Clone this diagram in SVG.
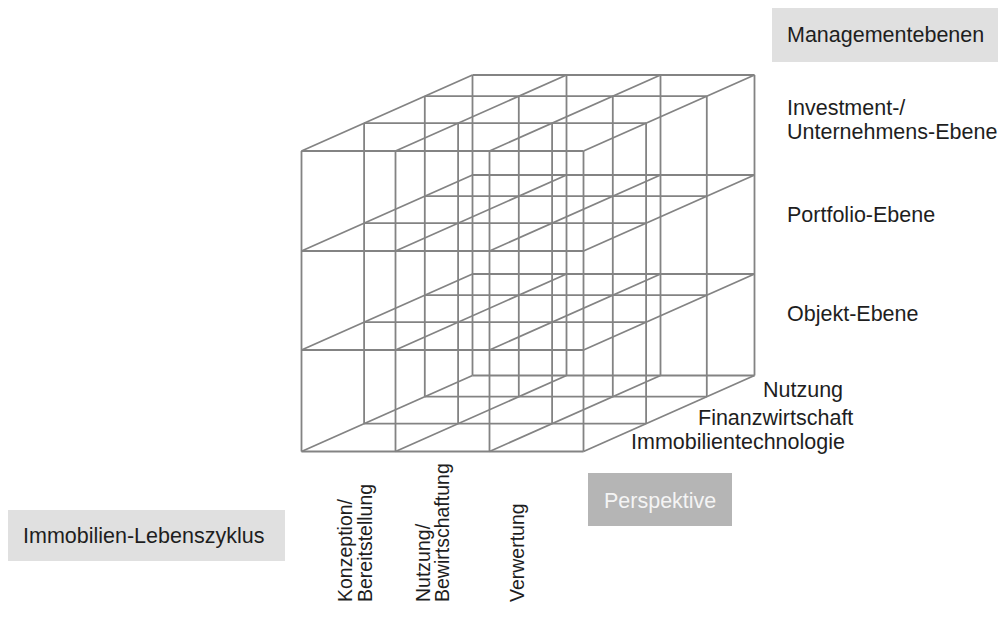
<svg xmlns="http://www.w3.org/2000/svg" xmlns:xlink="http://www.w3.org/1999/xlink" width="998" height="619" viewBox="0 0 998 619">
  <style>
    .grid { fill: none; stroke: #838383; stroke-width: 1.8; }
    .lbl { font-family: "Liberation Sans", Arial, sans-serif; font-size: 21.5px; fill: #1e1e1e; }
    .lbl-r { font-family: "Liberation Sans", Arial, sans-serif; font-size: 19.5px; fill: #1e1e1e; }
    .lbl-w { font-family: "Liberation Sans", Arial, sans-serif; font-size: 21.5px; fill: #f4f4f4; }
    .box-light { fill: #e0e0e0; }
    .box-dark { fill: #b5b5b5; }
  </style>
  <defs>
    <!-- one 3x3 slice of the cube (front plane); copied back along the depth axis -->
    <path id="slice" class="grid" d="M301.5 151V451.5M395.5 151V451.5M489.5 151V451.5M583.5 151V451.5M301.5 151H583.5M301.5 251H583.5M301.5 350H583.5M301.5 451.5H583.5"/>
  </defs>
  <rect width="998" height="619" fill="#ffffff"/>

  <!-- wireframe cube -->
  <g id="cube">
    <use xlink:href="#slice" transform="translate(171 -76)"/>
    <use xlink:href="#slice" transform="translate(123.3 -54.8)"/>
    <use xlink:href="#slice" transform="translate(62.6 -27.8)"/>
    <use xlink:href="#slice"/>
    <!-- depth edges running from the front plane to the back plane -->
    <path class="grid" d="M301.5 151l171 -76M395.5 151l171 -76M489.5 151l171 -76M583.5 151l171 -76
      M301.5 251l171 -76M395.5 251l171 -76M489.5 251l171 -76M583.5 251l171 -76
      M301.5 350l171 -76M395.5 350l171 -76M489.5 350l171 -76M583.5 350l171 -76
      M301.5 451.5l171 -76M395.5 451.5l171 -76M489.5 451.5l171 -76M583.5 451.5l171 -76"/>
  </g>

  <!-- management levels (vertical axis) -->
  <g id="managementebenen">
    <rect class="box-light" x="772" y="8" width="226" height="54"/>
    <text class="lbl" x="787" y="41.5">Managementebenen</text>
  </g>
  <g id="ebene-investment">
    <text class="lbl" x="787" y="115">Investment-/</text>
    <text class="lbl" x="787" y="139">Unternehmens-Ebene</text>
  </g>
  <g id="ebene-portfolio">
    <text class="lbl" x="787" y="222">Portfolio-Ebene</text>
  </g>
  <g id="ebene-objekt">
    <text class="lbl" x="787" y="321">Objekt-Ebene</text>
  </g>

  <!-- perspectives (depth axis) -->
  <g id="perspektive-nutzung">
    <text class="lbl" x="763" y="396.5">Nutzung</text>
  </g>
  <g id="perspektive-finanzwirtschaft">
    <text class="lbl" x="698" y="425">Finanzwirtschaft</text>
  </g>
  <g id="perspektive-technologie">
    <text class="lbl" x="631" y="449">Immobilientechnologie</text>
  </g>
  <g id="perspektive">
    <rect class="box-dark" x="588" y="473" width="144" height="53"/>
    <text class="lbl-w" x="604" y="508">Perspektive</text>
  </g>

  <!-- life cycle (horizontal axis) -->
  <g id="lebenszyklus">
    <rect class="box-light" x="8" y="510" width="277" height="51"/>
    <text class="lbl" x="23" y="543">Immobilien-Lebenszyklus</text>
  </g>
  <g id="phase-konzeption">
    <text class="lbl-r" transform="translate(352 602) rotate(-90)">Konzeption/</text>
    <text class="lbl-r" transform="translate(372 602) rotate(-90)">Bereitstellung</text>
  </g>
  <g id="phase-nutzung">
    <text class="lbl-r" transform="translate(430 602) rotate(-90)">Nutzung/</text>
    <text class="lbl-r" transform="translate(449 602) rotate(-90)">Bewirtschaftung</text>
  </g>
  <g id="phase-verwertung">
    <text class="lbl-r" transform="translate(524 602) rotate(-90)">Verwertung</text>
  </g>
</svg>
